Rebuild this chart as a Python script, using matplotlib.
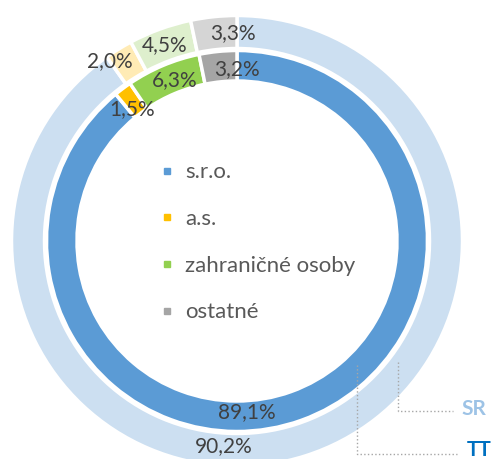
import numpy as np
import matplotlib.pyplot as plt
from matplotlib.lines import Line2D

categories = ['s.r.o.', 'a.s.', 'zahraničné osoby', 'ostatné']
sr_values = [90.2, 2.0, 4.5, 3.3]   # outer ring (SR)
tt_values = [89.1, 1.5, 6.3, 3.2]   # inner ring (TT)

dark_colors = ['#5B9BD5', '#FFC000', '#92D050', '#A5A5A5']
light_colors = ['#CCDFF1', '#FFEBB5', '#DEEFCD', '#D5D5D5']

plt.rcParams['font.family'] = ['Lato', 'DejaVu Sans']

W, H = 493, 459
fig = plt.figure(figsize=(W / 100, H / 100), dpi=100)
ax = fig.add_axes([0, 0, 1, 1])

cx, cy = 237, H - 241
lw = 2.5

ax.pie(sr_values, colors=light_colors, startangle=90, counterclock=False,
       radius=225.5, center=(cx, cy), frame=True,
       wedgeprops=dict(width=33, edgecolor='white', linewidth=lw))
ax.pie(tt_values, colors=dark_colors, startangle=90, counterclock=False,
       radius=190.5, center=(cx, cy), frame=True,
       wedgeprops=dict(width=30.5, edgecolor='white', linewidth=lw))
ax.set_xlim(0, W)
ax.set_ylim(0, H)
ax.set_aspect('equal')
ax.axis('off')

# label placement (angle in degrees, radius in px)
outer_pos = [(-93.6, 205), (125.2, 220), (110.2, 209), (91.1, 208)]
inner_pos = [(-86.7, 171), (128.5, 169), (111.0, 172.5), (90.0, 172)]


def fmt(v):
    return f'{v:.1f}'.replace('.', ',') + '%'


for vals, pos in ((sr_values, outer_pos), (tt_values, inner_pos)):
    for v, (a, r) in zip(vals, pos):
        t = np.deg2rad(a)
        ax.text(cx + r * np.cos(t), cy + r * np.sin(t), fmt(v),
                ha='center', va='center', fontsize=15, color='#404040')

handles = [Line2D([], [], marker='s', linestyle='none', markersize=5,
                  markerfacecolor=c, markeredgecolor=c) for c in dark_colors]
fig.legend(handles, categories, loc='center', bbox_to_anchor=(0.523, 0.472),
           frameon=False, fontsize=16, labelcolor='#595959',
           handlelength=0.6, handletextpad=0.5, labelspacing=1.2)

# series name call-outs
ax.plot([398, 398, 453], [H - 362, H - 411, H - 411], ls=':', color='#A6A6A6', lw=1)
ax.plot([357, 357, 457], [H - 365, H - 454, H - 454], ls=':', color='#A6A6A6', lw=1)
ax.text(461, H - 409, 'SR', fontsize=15, fontweight='bold', color='#9DC3E6',
        ha='left', va='center')
ax.text(467, H - 450, 'TT', fontsize=15, fontweight='bold', color='#0070C0',
        ha='left', va='center')

fig.savefig('out.png', dpi=100)
